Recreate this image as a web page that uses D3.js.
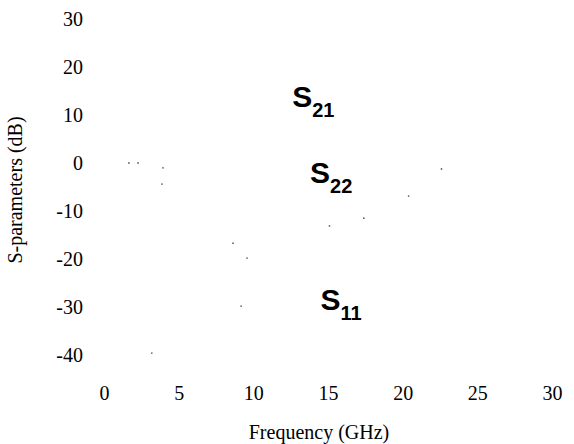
<!DOCTYPE html>
<html lang="en">
<head>
  <meta charset="UTF-8">
  <title>S-parameters</title>
  <script src="https://cdn.jsdelivr.net/npm/d3@7"></script>
  <style>
    body { margin: 0; background: #fff; }
    .serif { font-family: "Liberation Serif", Tinos, "Noto Serif", FreeSerif, "Nimbus Roman", "Times New Roman", serif; }
    .axis text { font-family: "Liberation Serif", Tinos, "Noto Serif", FreeSerif, "Nimbus Roman", "Times New Roman", serif; font-size: 20px; fill: #000; }
    .lbl { font-family: "Liberation Sans", Arial, sans-serif; font-weight: bold; fill: #000; }
  </style>
</head>
<body>
  <svg width="574" height="444"></svg>
  <script>
    var xTicks = [0, 5, 10, 15, 20, 25, 30]
    var yTicks = [30, 20, 10, 0, -10, -20, -30, -40]

    // faint fragments that survive of the traces (GHz, dB)
    var fragFreq = [1.67, 2.28, 3.95, 3.88, 22.6, 20.4, 17.4, 15.1, 8.64, 9.58, 9.18, 3.2]
    var fragDb = [0, 0, -1.0, -4.4, -1.25, -6.9, -11.5, -13.1, -16.7, -19.8, -29.8, -39.6]

    var labelNames = ["21", "22", "11"]
    var labelFreq = [12.6, 13.8, 14.5]
    var labelDb = [11.7, -4.2, -30.6]

    var svg = d3.select("svg")

    var x = d3.scaleLinear().domain([0, 30]).range([104, 552])
    var y = d3.scaleLinear().domain([-40, 30]).range([355, 19])

    var gx = svg.append("g")
      .attr("class", "axis")
      .attr("transform", "translate(0,380)")
      .call(d3.axisBottom(x).tickValues(xTicks).tickSize(0).tickPadding(6).tickFormat(d => String(d)))
    gx.select(".domain").remove()

    var gy = svg.append("g")
      .attr("class", "axis")
      .attr("transform", "translate(83,0)")
      .call(d3.axisLeft(y).tickValues(yTicks).tickSize(0).tickPadding(0).tickFormat(d => String(d)))
    gy.select(".domain").remove()

    svg.append("text")
      .attr("class", "serif")
      .attr("transform", "translate(22,190) rotate(-90)")
      .attr("text-anchor", "middle")
      .attr("font-size", 20)
      .text("S-parameters (dB)")

    svg.append("text")
      .attr("class", "serif")
      .attr("x", 319)
      .attr("y", 439)
      .attr("text-anchor", "middle")
      .attr("font-size", 20)
      .text("Frequency (GHz)")

    svg.selectAll(".frag")
      .data(fragFreq)
      .enter()
      .append("circle")
      .attr("class", "frag")
      .attr("cx", (d, i) => x(d))
      .attr("cy", (d, i) => y(fragDb[i]))
      .attr("r", 0.9)
      .attr("fill", "#666")

    var lbl = svg.selectAll(".lbl")
      .data(labelNames)
      .enter()
      .append("text")
      .attr("class", "lbl")
      .attr("x", (d, i) => x(labelFreq[i]))
      .attr("y", (d, i) => y(labelDb[i]))
      .attr("font-size", 30)
    lbl.append("tspan").text("S")
    lbl.append("tspan").attr("font-size", 20).attr("dy", 10).text(d => d)
  </script>
</body>
</html>
